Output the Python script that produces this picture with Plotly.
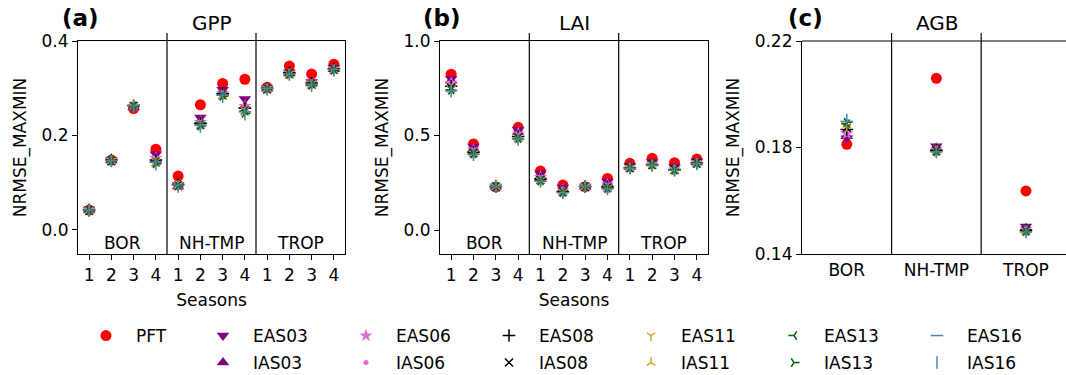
import plotly.graph_objects as go

# ---------------- data ----------------
seasons = ["1", "2", "3", "4"] * 3
regions = ["BOR", "NH-TMP", "TROP"]
series_names = ["PFT", "EAS03", "IAS03", "EAS06", "IAS06", "EAS08", "IAS08",
                "EAS11", "IAS11", "EAS13", "IAS13", "EAS16", "IAS16"]

gpp_PFT   = [0.042, 0.148, 0.257, 0.171, 0.114, 0.265, 0.310, 0.319, 0.302, 0.347, 0.330, 0.351]
gpp_EAS03 = [0.043, 0.148, 0.261, 0.160, 0.095, 0.238, 0.297, 0.277, 0.300, 0.334, 0.313, 0.343]
gpp_IAS03 = [0.042, 0.147, 0.260, 0.150, 0.092, 0.230, 0.292, 0.262, 0.299, 0.331, 0.310, 0.340]
gpp_EAS06 = [0.042, 0.147, 0.262, 0.152, 0.094, 0.228, 0.290, 0.262, 0.299, 0.332, 0.311, 0.341]
gpp_IAS06 = [0.041, 0.146, 0.261, 0.146, 0.093, 0.225, 0.287, 0.256, 0.298, 0.330, 0.309, 0.339]
gpp_EAS08 = [0.042, 0.148, 0.263, 0.148, 0.096, 0.226, 0.289, 0.258, 0.300, 0.333, 0.311, 0.341]
gpp_IAS08 = [0.041, 0.146, 0.262, 0.143, 0.094, 0.222, 0.285, 0.252, 0.298, 0.330, 0.308, 0.339]
gpp_EAS11 = [0.042, 0.147, 0.262, 0.145, 0.095, 0.224, 0.287, 0.254, 0.299, 0.331, 0.310, 0.340]
gpp_IAS11 = [0.041, 0.146, 0.261, 0.141, 0.093, 0.221, 0.284, 0.249, 0.298, 0.329, 0.307, 0.338]
gpp_EAS13 = [0.042, 0.147, 0.263, 0.144, 0.095, 0.223, 0.286, 0.252, 0.299, 0.331, 0.309, 0.340]
gpp_IAS13 = [0.041, 0.146, 0.262, 0.140, 0.093, 0.220, 0.283, 0.247, 0.298, 0.329, 0.306, 0.338]
gpp_EAS16 = [0.042, 0.147, 0.263, 0.143, 0.095, 0.222, 0.285, 0.250, 0.299, 0.330, 0.308, 0.340]
gpp_IAS16 = [0.041, 0.146, 0.262, 0.139, 0.092, 0.219, 0.282, 0.245, 0.298, 0.329, 0.305, 0.338]

lai_PFT   = [0.824, 0.455, 0.228, 0.543, 0.312, 0.238, 0.229, 0.273, 0.353, 0.379, 0.356, 0.375]
lai_EAS03 = [0.800, 0.442, 0.230, 0.530, 0.300, 0.225, 0.230, 0.256, 0.338, 0.360, 0.335, 0.362]
lai_IAS03 = [0.790, 0.430, 0.229, 0.518, 0.285, 0.215, 0.229, 0.245, 0.333, 0.352, 0.327, 0.357]
lai_EAS06 = [0.778, 0.425, 0.230, 0.510, 0.280, 0.212, 0.230, 0.240, 0.332, 0.350, 0.325, 0.356]
lai_IAS06 = [0.770, 0.418, 0.229, 0.502, 0.274, 0.208, 0.229, 0.235, 0.330, 0.348, 0.322, 0.355]
lai_EAS08 = [0.760, 0.412, 0.230, 0.495, 0.268, 0.204, 0.230, 0.228, 0.330, 0.346, 0.320, 0.354]
lai_IAS08 = [0.752, 0.408, 0.229, 0.490, 0.265, 0.202, 0.229, 0.225, 0.329, 0.345, 0.319, 0.353]
lai_EAS11 = [0.748, 0.406, 0.230, 0.488, 0.263, 0.201, 0.230, 0.223, 0.329, 0.345, 0.318, 0.353]
lai_IAS11 = [0.744, 0.404, 0.229, 0.485, 0.261, 0.200, 0.229, 0.221, 0.328, 0.344, 0.317, 0.352]
lai_EAS13 = [0.742, 0.403, 0.230, 0.484, 0.260, 0.199, 0.230, 0.220, 0.328, 0.344, 0.317, 0.352]
lai_IAS13 = [0.739, 0.401, 0.229, 0.482, 0.259, 0.198, 0.229, 0.219, 0.328, 0.343, 0.316, 0.352]
lai_EAS16 = [0.737, 0.400, 0.230, 0.481, 0.258, 0.198, 0.230, 0.218, 0.327, 0.343, 0.316, 0.351]
lai_IAS16 = [0.734, 0.398, 0.229, 0.479, 0.257, 0.197, 0.229, 0.217, 0.327, 0.342, 0.315, 0.351]

agb_PFT   = [0.1812, 0.2060, 0.1637]
agb_EAS03 = [0.1835, 0.1805, 0.1503]
agb_IAS03 = [0.1842, 0.1798, 0.1497]
agb_EAS06 = [0.1852, 0.1795, 0.1494]
agb_IAS06 = [0.1858, 0.1792, 0.1492]
agb_EAS08 = [0.1868, 0.1790, 0.1490]
agb_IAS08 = [0.1874, 0.1788, 0.1488]
agb_EAS11 = [0.1880, 0.1787, 0.1487]
agb_IAS11 = [0.1885, 0.1786, 0.1486]
agb_EAS13 = [0.1890, 0.1785, 0.1485]
agb_IAS13 = [0.1895, 0.1784, 0.1484]
agb_EAS16 = [0.1898, 0.1784, 0.1483]
agb_IAS16 = [0.1903, 0.1783, 0.1482]

gpp = [gpp_PFT, gpp_EAS03, gpp_IAS03, gpp_EAS06, gpp_IAS06, gpp_EAS08, gpp_IAS08,
       gpp_EAS11, gpp_IAS11, gpp_EAS13, gpp_IAS13, gpp_EAS16, gpp_IAS16]
lai = [lai_PFT, lai_EAS03, lai_IAS03, lai_EAS06, lai_IAS06, lai_EAS08, lai_IAS08,
       lai_EAS11, lai_IAS11, lai_EAS13, lai_IAS13, lai_EAS16, lai_IAS16]
agb = [agb_PFT, agb_EAS03, agb_IAS03, agb_EAS06, agb_IAS06, agb_EAS08, agb_IAS08,
       agb_EAS11, agb_IAS11, agb_EAS13, agb_IAS13, agb_EAS16, agb_IAS16]

# ---------------- styles ----------------
PURPLE, ORCHID, GOLD, GREEN, BLUE = "#800080", "#DA70D6", "#DAA520", "#006400", "#4682B4"
styles = {
    "PFT":   dict(symbol="circle", size=11, color="#FF0000", lw=0),
    "EAS03": dict(symbol="triangle-down", size=11, color=PURPLE, lw=0),
    "IAS03": dict(symbol="triangle-up", size=11, color=PURPLE, lw=0),
    "EAS06": dict(symbol="star", size=10, color=ORCHID, lw=0),
    "IAS06": dict(symbol="circle", size=5, color=ORCHID, lw=0),
    "EAS08": dict(symbol="cross-thin", size=9, color="#000000", lw=1.5),
    "IAS08": dict(symbol="x-thin", size=8, color="#000000", lw=1.5),
    "EAS11": dict(symbol="y-down", size=7, color=GOLD, lw=1.5),
    "IAS11": dict(symbol="y-up", size=7, color=GOLD, lw=1.5),
    "EAS13": dict(symbol="y-left", size=7, color=GREEN, lw=1.5),
    "IAS13": dict(symbol="y-right", size=7, color=GREEN, lw=1.5),
    "EAS16": dict(symbol="line-ew", size=9, color=BLUE, lw=1.5),
    "IAS16": dict(symbol="line-ns", size=9, color=BLUE, lw=1.5),
}

FONT = "DejaVu Sans"
FS = 17
W, H = 1066, 375
fig = go.Figure()

# legend slots: (column marker x in px, row)
col_x = [102, 219, 362, 505, 647, 790, 933]
leg_slot = {"PFT": (0, 0)}
for j, tag in enumerate(["03", "06", "08", "11", "13", "16"]):
    leg_slot["EAS" + tag] = (j + 1, 0)
    leg_slot["IAS" + tag] = (j + 1, 1)
row_y = [336, 363]

panels = [
    dict(data=gpp, x=list(range(12)), xa="x", ya="y", show=True),
    dict(data=lai, x=list(range(12)), xa="x2", ya="y2", show=False),
    dict(data=agb, x=list(range(3)), xa="x3", ya="y3", show=False),
]
for p in panels:
    for k, (name, vals) in enumerate(zip(series_names, p["data"])):
        s = styles[name]
        legkey = "legend" if k == 0 else f"legend{k+1}"
        fig.add_trace(go.Scatter(
            x=p["x"], y=vals, mode="markers", name=name,
            xaxis=p["xa"], yaxis=p["ya"],
            showlegend=p["show"], legend=legkey,
            marker=dict(symbol=s["symbol"], size=s["size"], color=s["color"],
                        line=dict(width=s["lw"], color=s["color"])),
        ))

ytop, ybot = 1 - 41 / H, 1 - 254 / H
axcommon = dict(showline=True, linecolor="#000000", linewidth=1.2, showgrid=False,
                zeroline=False, ticks="outside", ticklen=5, tickwidth=1.2, automargin=False,
                tickcolor="#000000", tickfont=dict(family=FONT, size=FS, color="#000000"))
ytitle = dict(text="NRMSE_MAXMIN", font=dict(family=FONT, size=FS), standoff=10)
xtitle = dict(text="Seasons", font=dict(family=FONT, size=FS), standoff=10)

fig.update_layout(
    width=W, height=H, margin=dict(l=0, r=0, t=0, b=0, autoexpand=False),
    paper_bgcolor="white", plot_bgcolor="white",
    font=dict(family=FONT, size=FS, color="#000000"),
    xaxis=dict(domain=[78 / W, 345 / W], range=[-0.5, 11.5], tickvals=list(range(12)),
               ticktext=seasons, mirror=True, anchor="y", title=xtitle, **axcommon),
    yaxis=dict(domain=[ybot, ytop], range=[-0.051, 0.4], tickvals=[0.0, 0.2, 0.4],
               ticktext=["0.0", "0.2", "0.4"], mirror=True, anchor="x", title=ytitle, **axcommon),
    xaxis2=dict(domain=[440 / W, 708 / W], range=[-0.5, 11.5], tickvals=list(range(12)),
                ticktext=seasons, mirror=True, anchor="y2", title=xtitle, **axcommon),
    yaxis2=dict(domain=[ybot, ytop], range=[-0.127, 1.0], tickvals=[0.0, 0.5, 1.0],
                ticktext=["0.0", "0.5", "1.0"], mirror=True, anchor="x2", title=ytitle, **axcommon),
    xaxis3=dict(domain=[802 / W, 1.0], range=[-0.5, 2.447], tickvals=[0, 1, 2],
                ticktext=regions, anchor="y3",
                **{**axcommon, "ticks": "", "ticklen": 0}),
    yaxis3=dict(domain=[ybot, ytop], range=[0.14, 0.22], tickvals=[0.14, 0.18, 0.22],
                ticktext=["0.14", "0.18", "0.22"], anchor="x3", title=ytitle, **axcommon),
)

# one legend per entry, placed in a 7-column grid like the reference
for k, name in enumerate(series_names):
    key = "legend" if k == 0 else f"legend{k+1}"
    c, r = leg_slot[name]
    fig.update_layout(**{key: dict(
        x=(col_x[c] - 26) / W, xanchor="left", y=1 - row_y[r] / H, yanchor="middle",
        orientation="v", bgcolor="rgba(0,0,0,0)", borderwidth=0,
        font=dict(family=FONT, size=FS, color="#000000"),
        itemwidth=50, tracegroupgap=0)})

shapes = []
annotations = []
for xa, ya in [("x", "y"), ("x2", "y2")]:
    for xv in [3.5, 7.5]:
        shapes.append(dict(type="line", xref=xa, yref=f"{ya} domain", x0=xv, x1=xv,
                           y0=0, y1=1.038, line=dict(color="#000000", width=1.2)))
    for xc, lab in zip([1.5, 5.5, 9.5], regions):
        annotations.append(dict(xref=xa, yref=f"{ya} domain", x=xc, y=0.052, text=lab,
                                showarrow=False, yanchor="middle",
                                font=dict(family=FONT, size=FS, color="#000000")))
for xv in [0.5, 1.5]:
    shapes.append(dict(type="line", xref="x3", yref="y3 domain", x0=xv, x1=xv,
                       y0=0, y1=1.038, line=dict(color="#000000", width=1.2)))
shapes.append(dict(type="line", xref="x3 domain", yref="y3 domain", x0=0, x1=1,
                   y0=1, y1=1, line=dict(color="#000000", width=1.2)))

for txt, cx in [("GPP", 211.5 / W), ("LAI", 574 / W), ("AGB", 937 / W)]:
    annotations.append(dict(xref="paper", yref="paper", x=cx, y=1 - 23 / H, text=txt,
                            showarrow=False, xanchor="center", yanchor="middle",
                            font=dict(family=FONT, size=20, color="#000000")))
for txt, lx in [("(a)", 60 / W), ("(b)", 421 / W), ("(c)", 786 / W)]:
    annotations.append(dict(xref="paper", yref="paper", x=lx, y=1 - 18 / H, text=f"<b>{txt}</b>",
                            showarrow=False, xanchor="left", yanchor="middle",
                            font=dict(family=FONT, size=23, color="#000000")))

fig.update_layout(shapes=shapes, annotations=annotations)
fig.write_html("out.html", config={"displayModeBar": False},
               post_script="document.body.style.margin='0';")
